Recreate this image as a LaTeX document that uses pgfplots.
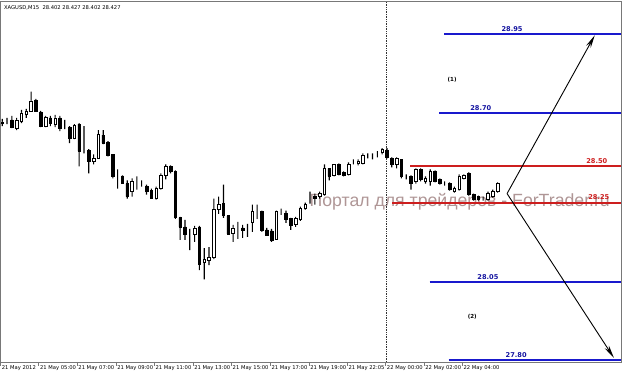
\documentclass[border=0pt]{standalone}
\usepackage{fontspec}
\setmainfont{DejaVu Sans}
\newfontfamily\wmfont{Liberation Sans}
\usepackage{pgfplots}
\pgfplotsset{compat=1.18}
\usepackage{pgfplotstable}
\usetikzlibrary{arrows.meta}
\definecolor{lvlblue}{RGB}{25,25,205}
\definecolor{lblblue}{RGB}{20,20,160}
\definecolor{lvlred}{RGB}{205,30,30}
\definecolor{wmcol}{RGB}{175,150,150}
\definecolor{framecol}{RGB}{120,120,120}
\newcommand\tickfont{\fontsize{5.2}{6}\selectfont}

% candles in screen units: x, high, low, body top, white body height, black body height
\pgfplotstableread{
x hi lo top w k
3.3 118 125 121 1 0
8.07 117 123 120 0 0
12.84 115 127 119 0 7
17.61 117 129 119 8 0
22.38 109 122 112 8 0
27.15 108 117 110 3 0
31.92 91 111 100 10 0
36.69 98 111 99 0 11
41.46 110 126 111 0 14
46.23 115 126 116 9 0
51.0 115 125 117 0 5
55.77 114 126 117 6 0
60.54 115 130 117 0 10
65.31 119 128 125 0 0
70.08 125 142 126 0 11
74.85 123 138 124 13 0
79.62 122 165 123 0 27
84.39 125 152 148 0 0
89.16 148 172 149 0 11
93.93 153 163 157 3 0
98.7 129 157 133 24 0
103.47 129 143 134 0 8
108.24 140 155 141 0 13
113.01 153 177 153 0 22
117.78 168 187 175 0 0
122.55 174 182 175 0 7
127.32 179 197 182 0 13
132.09 177 195 180 10 0
136.86 175 188 183 0 0
141.63 179 185 183 0 0
146.4 183 193 185 0 5
151.17 187 197 189 0 8
155.94 185 198 187 10 0
160.71 172 188 174 13 0
165.48 163 178 165 9 0
170.25 164 172 165 0 5
175.02 169 217 170 0 46
179.79 215 238 216 0 9
184.56 218 238 225 0 7
189.33 227 248 232 0 0
194.1 224 240 226 6 0
198.87 224 268 225 0 37
203.64 246 277 257 3 0
208.41 245 263 255 3 0
213.18 197 257 208 47 0
217.95 195 212 203 5 0
222.72 183 216 202 0 12
227.49 214 233 214 0 18
232.26 223 240 226 5 0
237.03 220 237 226 0 0
241.8 223 236 226 0 2
246.57 222 235 228 0 0
251.34 203 230 210 10 0
256.11 203 217 210 0 0
260.88 209 230 210 0 18
265.65 226 234 228 0 5
270.42 227 240 229 0 9
275.19 209 238 210 27 0
279.96 207 213 211 0 0
284.73 209 221 212 0 6
289.5 216 228 217 0 6
294.27 215 225 217 5 0
299.04 205 219 207 11 0
303.81 201 208 203 4 0
308.58 190 202 195 0 0
313.35 192 203 195 0 2
318.12 190 197 192 3 0
322.89 163 194 167 26 0
327.66 167 179 167 0 8
332.43 163 175 163 11 0
337.2 162 174 163 0 10
341.97 170 175 171 0 3
346.74 161 174 163 10 0
351.51 158 163 162 0 0
356.28 158 164 160 2 0
361.05 152 163 154 8 0
365.82 152 157 153 0 0
370.59 152 158 153 0 0
375.36 150 156 151 0 0
380.13 147 153 148 3 0
384.9 147 157 149 0 7
389.67 156 166 157 0 6
394.44 156 167 157 6 0
399.21 158 177 158 0 17
403.98 173 178 175 0 0
408.75 174 188 175 0 7
413.52 167 182 168 12 0
418.29 167 180 168 0 10
423.06 175 182 177 3 0
427.83 168 184 170 10 0
432.6 169 181 170 0 10
437.37 177 183 178 0 4
442.14 180 184 182 0 0
446.91 181 189 182 0 6
451.68 185 191 187 3 0
456.45 173 189 175 13 0
461.22 173 178 174 3 0
465.99 171 194 172 0 21
470.76 192 199 193 0 5
475.53 194 199 195 0 3
480.3 195 199 197 0 0
485.07 190 199 192 6 0
489.84 188 196 190 5 0
494.61 181 191 182 8 0
}\candles

\begin{document}
\begin{tikzpicture}
\pgfplotsset{base/.style={width=622bp,height=378bp,scale only axis,
  xmin=0,xmax=622,ymin=0,ymax=378,y dir=reverse,hide axis,clip=false}}
\begin{axis}[base]
  % watermark
  \node[anchor=base west,text=wmcol,inner sep=0pt,font=\wmfont\fontsize{17.6}{18}\selectfont] at (axis cs:308,205) {Портал для трейдеров - ForTrader.ru};
  % frame
  \addplot[framecol,line width=0.8bp] coordinates {(1.5,1.5) (617.5,1.5) (617.5,359) (1.5,359) (1.5,1.5)};
  % period separator
  \addplot[black!80,densely dotted,line width=0.7bp] coordinates {(384,2) (384,359)};
  % levels
  \addplot[lvlblue,line width=2bp] coordinates {(441.7,34) (617,34)};
  \addplot[lvlblue,line width=2bp] coordinates {(436.7,112) (617,112)};
  \addplot[lvlred,line width=1.8bp] coordinates {(408,165) (617,165)};
  \addplot[lvlred,line width=1.8bp] coordinates {(390,201) (617,201)};
  \addplot[lvlblue,line width=2bp] coordinates {(427.3,280) (617,280)};
  \addplot[lvlblue,line width=2bp] coordinates {(446,357.5) (617,357.5)};
  % arrows
  \addplot[black,line width=0.9bp,-{Stealth[length=13bp,width=5bp]}] coordinates {(504,192) (591,35)};
  \addplot[black,line width=0.9bp,-{Stealth[length=13bp,width=5bp]}] coordinates {(504,192) (610,355)};
  % level labels
  \begin{scope}[every node/.style={font=\bfseries\fontsize{6.6}{7}\selectfont,inner sep=0pt}]
    \node[text=lblblue] at (axis cs:509,29) {28.95};
    \node[text=lblblue] at (axis cs:478,107) {28.70};
    \node[text=lvlred] at (axis cs:593,159.5) {28.50};
    \node[text=lvlred] at (axis cs:595,195.5) {28.25};
    \node[text=lblblue] at (axis cs:485,274.5) {28.05};
    \node[text=lblblue] at (axis cs:513,352) {27.80};
    \node[text=black,font=\bfseries\fontsize{5.5}{6}\selectfont] at (axis cs:449.5,79) {(1)};
    \node[text=black,font=\bfseries\fontsize{5.5}{6}\selectfont] at (axis cs:469.5,314) {(2)};
  \end{scope}
  % title
  \node[anchor=west,inner sep=0pt,font=\tickfont] at (axis cs:5,7.5) {XAGUSD,M15\ \ 28.402 28.427 28.402 28.427};
  % time axis
  \foreach \tx/\tl in {1.5/21 May 2012,39.5/21 May 05:00,77.5/21 May 07:00,116/21 May 09:00,154/21 May 11:00,192.5/21 May 13:00,230.5/21 May 15:00,269/21 May 17:00,307.5/21 May 19:00,345.5/21 May 22:05,383.5/22 May 00:00,421.5/22 May 02:00,459.5/22 May 04:00}{
    \edef\tmp{\noexpand\draw[framecol,line width=0.6bp] (axis cs:\tx,359) -- (axis cs:\tx,363);
    \noexpand\node[anchor=west,inner sep=0pt,font=\noexpand\tickfont] at (axis cs:\tx+1.2,365.5) {\tl};}
    \tmp
  }
\end{axis}
% wicks: invisible base up to the high, then the high-low range
\begin{axis}[base, ybar stacked]
  \addplot[draw=none,fill=none,bar width=1] table[x=x,y=hi]{\candles};
  \addplot[fill=black,draw=none,bar width=1.1] table[x=x,y expr=\thisrow{lo}-\thisrow{hi}]{\candles};
\end{axis}
% bodies: invisible base up to the body top, then white or black body
\begin{axis}[base, ybar stacked]
  \addplot[draw=none,fill=none,bar width=1] table[x=x,y=top]{\candles};
  \addplot[fill=white,draw=black,line width=0.6bp,bar width=2.6] table[x=x,y=w]{\candles};
  \addplot[fill=black,draw=black,line width=0.6bp,bar width=2.6] table[x=x,y=k]{\candles};
\end{axis}
\end{tikzpicture}
\end{document}
